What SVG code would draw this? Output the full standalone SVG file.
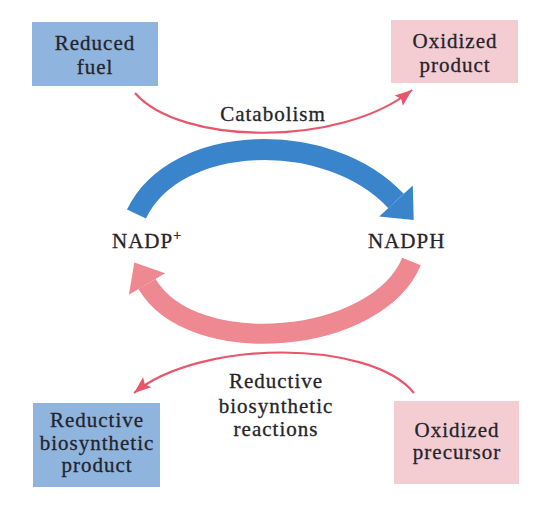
<svg xmlns="http://www.w3.org/2000/svg" width="545" height="516" viewBox="0 0 545 516">
  <defs>
    <style>
      .t { font-family: "Liberation Serif", "Times New Roman", serif; font-size: 21px; fill: #24242c; stroke: #24242c; stroke-width: 0.3; text-anchor: middle; letter-spacing: 1px; }
      .blue { fill: #8fb4de; }
      .pink { fill: #f4cdd3; }
      .thin { fill: none; stroke: #e8566b; stroke-width: 2.2; }
    </style>
    <marker id="ah" markerUnits="userSpaceOnUse" markerWidth="20" markerHeight="16" viewBox="-18 -8 20 16" refX="0" refY="0" orient="auto">
      <path d="M0,0 L-17,-6.5 L-14,0 L-17,6.5 z" fill="#e8566b"/>
    </marker>
  </defs>
  <rect width="545" height="516" fill="#ffffff"/>

  <g id="reduced-fuel">
    <rect class="blue" x="32" y="22" width="126" height="64"/>
    <text class="t" x="95" y="50">Reduced</text>
    <text class="t" x="95" y="74">fuel</text>
  </g>
  <g id="oxidized-product">
    <rect class="pink" x="391" y="20" width="127" height="63"/>
    <text class="t" x="455" y="48">Oxidized</text>
    <text class="t" x="455" y="72">product</text>
  </g>
  <g id="nadp">
    <text class="t" x="112" y="248" style="text-anchor:start">NADP<tspan font-size="14" dy="-8">+</tspan></text>
  </g>
  <g id="nadph">
    <text class="t" x="368" y="248" style="text-anchor:start">NADPH</text>
  </g>
  <g id="reductive-product">
    <rect class="blue" x="33" y="403" width="127" height="84"/>
    <text class="t" x="97" y="427">Reductive</text>
    <text class="t" x="97" y="450">biosynthetic</text>
    <text class="t" x="97" y="472">product</text>
  </g>
  <g id="oxidized-precursor">
    <rect class="pink" x="394" y="401" width="125" height="83"/>
    <text class="t" x="457" y="437">Oxidized</text>
    <text class="t" x="457" y="459">precursor</text>
  </g>

  <g id="connectors">
    <path class="thin" d="M135,93 C180,145 340,148 412,90" marker-end="url(#ah)"/>
    <text class="t" x="273" y="121">Catabolism</text>

    <path d="M136.5,214 C175.2,133 328,128 396,201" fill="none" stroke="#3a84cb" stroke-width="21"/>
    <polygon points="412.8,185.4 413.7,220 379.2,216.6" fill="#3a84cb"/>

    <path d="M411.5,261.5 C377.3,344.3 192.9,361.4 147,284" fill="none" stroke="#ee8891" stroke-width="20"/>
    <polygon points="165.1,273.3 134.3,262.5 128.9,294.7" fill="#ee8891"/>

    <path class="thin" d="M414,393 C370,339 200,339 134,393" marker-end="url(#ah)"/>
    <text class="t" x="276" y="388">Reductive</text>
    <text class="t" x="276" y="413">biosynthetic</text>
    <text class="t" x="276" y="436">reactions</text>
  </g>
</svg>
